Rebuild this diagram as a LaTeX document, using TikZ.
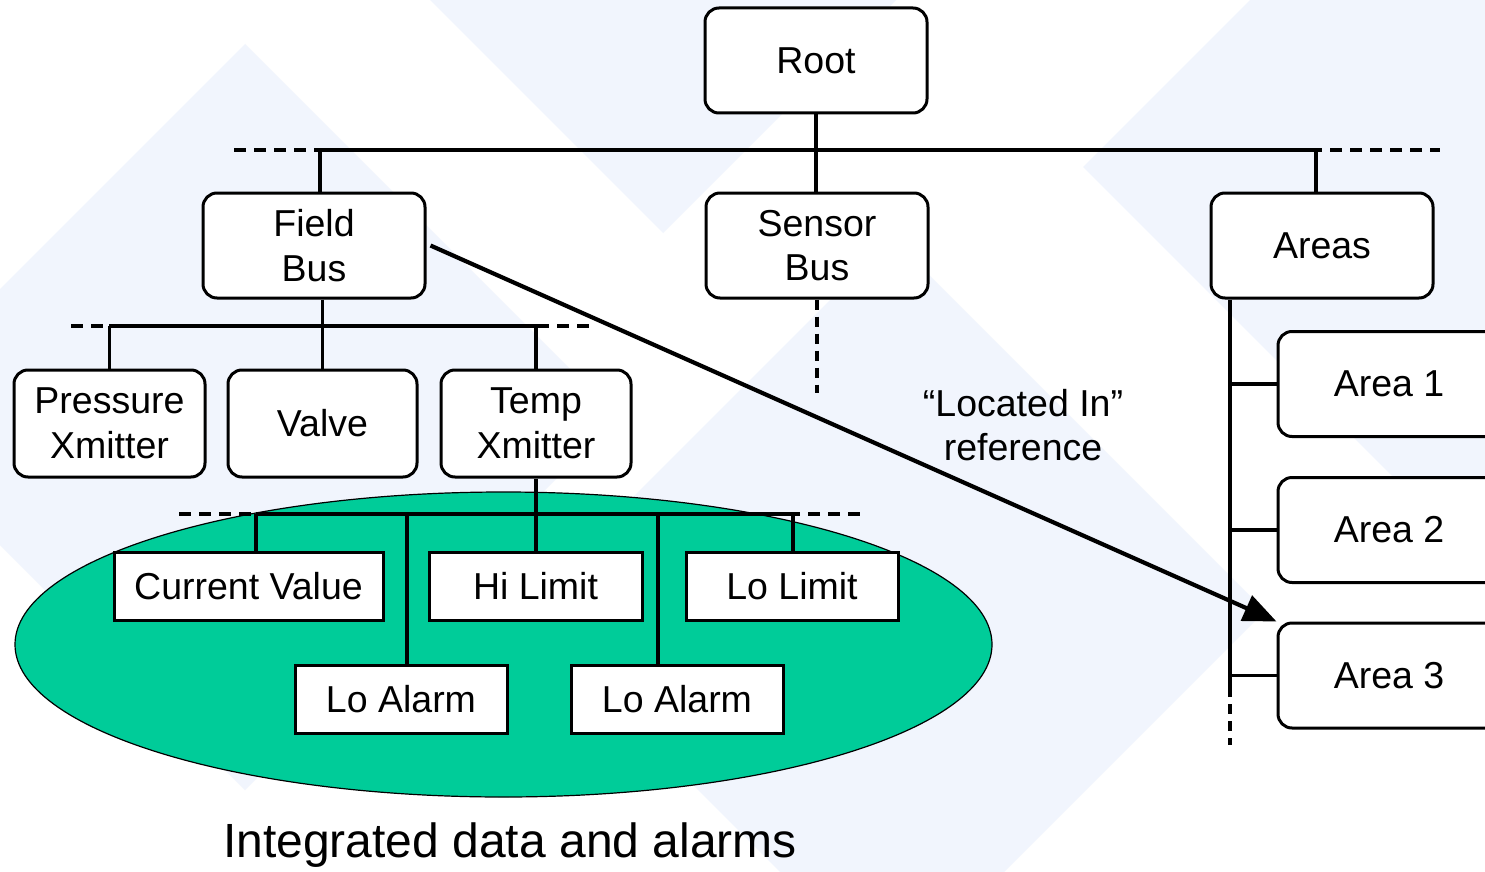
\documentclass[tikz,border=0pt]{standalone}
\usepackage{fontspec}
\setmainfont{Liberation Sans}
\usetikzlibrary{arrows.meta,shapes.geometric}
\definecolor{wash}{RGB}{241,245,253}
\definecolor{groupfill}{RGB}{0,204,153}
\newcommand\labelfont{\fontsize{37.5}{44.5}\selectfont}
\newcommand\captionfont{\fontsize{48}{57}\selectfont}
\begin{document}
\begin{tikzpicture}[x=1pt,y=-1pt,
  rbox/.style={draw,line width=3pt,rounded corners=14pt,fill=white,align=center,
    font=\labelfont,inner sep=0pt,minimum width=222pt,minimum height=105pt},
  dbox/.style={rbox,minimum width=191pt,minimum height=107pt},
  sbox/.style={draw,line width=3pt,fill=white,align=center,font=\labelfont,
    inner sep=0pt,minimum width=213pt,minimum height=68pt},
  conn/.style={line width=3.2pt},
  dashbus/.style={line width=4pt,dash pattern=on 12pt off 8pt},
  dashstub/.style={line width=3.2pt,dash pattern=on 10pt off 7pt}]

% canvas and faint background diamonds
\useasboundingbox (0,0) rectangle (1485,872);
\clip (0,0) rectangle (1485,872);
\fill[white] (0,0) rectangle (1485,872);
\fill[wash] (245,44) -- (618,417) -- (245,790) -- (-128,417) -- cycle;
\fill[wash] (430,0) -- (896,0) -- (663,233) -- cycle;
\fill[wash] (1083,167) -- (1250,0) -- (1485,0) -- (1485,569) -- cycle;
\fill[wash] (892,238) -- (1265,611) -- (892,984) -- (519,611) -- cycle;

% grouping ellipse for the transmitter's data
\node[ellipse,draw,line width=1.2pt,fill=groupfill,inner sep=0pt,
  minimum width=977pt,minimum height=305pt] (grp) at (503.5,644.5) {};

% hierarchy nodes
\node[rbox] (root)  at (816,60.5)  {Root};
\node[rbox] (fb)    at (314,245.5) {Field\\Bus};
\node[rbox] (sb)    at (817,245.5) {Sensor\\Bus};
\node[rbox] (areas) at (1322,245.5) {Areas};
\node[dbox] (px)    at (109.5,423.5) {Pressure\\Xmitter};
\node[dbox,minimum width=189pt] (valve) at (322.5,423.5) {Valve};
\node[dbox,minimum width=190pt] (tx)    at (536,423.5) {Temp\\Xmitter};
\node[rbox] (a1) at (1389,384) {Area 1};
\node[rbox] (a2) at (1389,530) {Area 2};
\node[rbox] (a3) at (1389,675.5) {Area 3};

% data and alarm items
\node[sbox,minimum width=269pt] (cv) at (248.5,586) {Current Value};
\node[sbox] (hl)  at (535.5,586) {Hi Limit};
\node[sbox,minimum width=212pt] (ll) at (792,586) {Lo Limit};
\node[sbox,minimum width=212pt] (la1) at (401,699.5) {Lo Alarm};
\node[sbox,minimum width=212pt] (la2) at (677,699.5) {Lo Alarm};

% labels
\node[font=\labelfont,align=center] (lbl) at (1023,425) {“Located In”\\reference};
\node[font=\captionfont] (cap) at (510,845) {Integrated data and alarms};

% top level bus
\coordinate (busA)  at (320,150);
\coordinate (busB)  at (1316,150);
\coordinate (busAL) at (234,150);
\coordinate (busAR) at (462,150);
\coordinate (busBL) at (1210,150);
\coordinate (busBR) at (1440,150);
\draw[conn] (busA) -- (busB);
\draw[dashbus] (busAL) -- (busAR);
\draw[dashbus] (busBL) -- (busBR);
\draw[conn] (root.south) -- (root.south |- sb.north);
\draw[conn] (busA) -- (busA |- fb.north);
\draw[conn] (busB) -- (busB |- areas.north);
\coordinate (sbEnd) at (817,393);
\draw[dashstub] (sb.south) -- (sbEnd);

% field bus devices
\coordinate (b2L) at (109,326);
\coordinate (b2R) at (538,326);
\coordinate (b2DL) at (71,326);
\coordinate (b2DLe) at (158,326);
\coordinate (b2DR) at (477,326);
\coordinate (b2DRe) at (593,326);
\draw[conn] (b2L) -- (b2R);
\draw[dashbus] (b2DL) -- (b2DLe);
\draw[dashbus] (b2DR) -- (b2DRe);
\draw[conn] (valve.north |- fb.south) -- (valve.north);
\draw[conn] (px.north) -- (px.north |- b2L);
\draw[conn] (tx.north) -- (tx.north |- b2L);

% transmitter data bus
\coordinate (b3L) at (256,514);
\coordinate (b3R) at (793,514);
\coordinate (t1)  at (407,514);
\coordinate (t2)  at (658,514);
\coordinate (b3DL) at (179,514);
\coordinate (b3DLe) at (291,514);
\coordinate (b3DR) at (748,514);
\coordinate (b3DRe) at (860,514);
\draw[conn] (b3L) -- (b3R);
\draw[dashbus] (b3DL) -- (b3DLe);
\draw[dashbus] (b3DR) -- (b3DRe);
\draw[conn] (tx.south) -- (tx.south |- hl.north);
\draw[conn] (b3L) -- (b3L |- cv.north);
\draw[conn] (t1) -- (t1 |- la1.north);
\draw[conn] (t2) -- (t2 |- la2.north);
\draw[conn] (b3R) -- (b3R |- ll.north);

% areas trunk
\coordinate (trunkMid) at (1230,687);
\coordinate (trunkEnd) at (1230,745);
\draw[conn] (trunkMid |- areas.south) -- (trunkMid);
\draw[dashstub] (trunkMid) -- (trunkEnd);
\draw[conn] (a1.west) -- (a1.west -| trunkMid);
\draw[conn] (a2.west) -- (a2.west -| trunkMid);
\draw[conn] (a3.west) -- (a3.west -| trunkMid);

% "located in" reference
\draw[line width=4.2pt,-{Triangle[length=33pt,width=27pt]}] ([xshift=4pt]fb.east) -- (a3.north west);
\end{tikzpicture}
\end{document}
